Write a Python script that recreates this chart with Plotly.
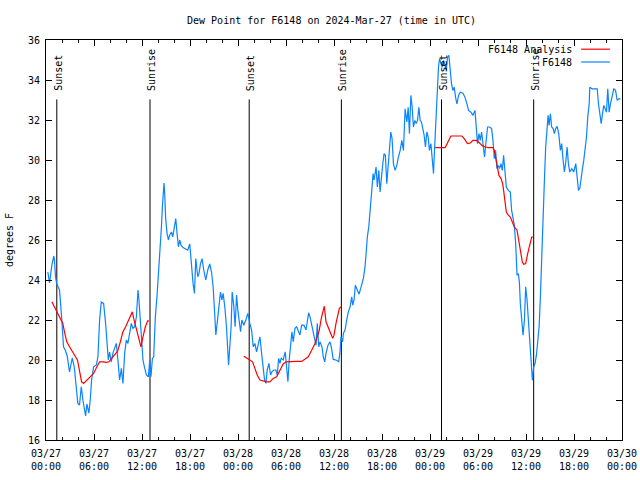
import pandas as pd
import plotly.graph_objects as go

BASE = pd.Timestamp("2024-03-27 00:00")

# Observed dew point (F6148), hours after 03/27 00:00 UTC
obs_hours = [0.23, 0.44, 0.73, 0.98, 1.06, 1.19, 1.35, 1.69, 1.98, 2.19, 2.40, 2.65, 2.94, 3.28, 3.53, 3.78,
             3.98, 4.19, 4.41, 4.61, 4.95, 5.11, 5.36, 5.53, 5.70, 5.95, 6.29, 6.49, 6.70, 6.91, 7.20, 7.45,
             7.61, 7.79, 7.95, 8.16, 8.36, 8.58, 8.79, 8.99, 9.20, 9.42, 9.62, 9.83, 10.04, 10.24, 10.46,
             10.67, 10.87, 11.08, 11.30, 11.50, 11.62, 11.80, 11.92, 12.12, 12.30, 12.55, 12.80, 12.96,
             13.12, 13.30, 13.46, 13.67, 13.87, 14.09, 14.30, 14.43, 14.55, 14.63, 14.75, 14.84, 14.96,
             15.13, 15.30, 15.46, 15.68, 15.84, 16.05, 16.22, 16.38, 16.55, 16.72, 16.88, 17.13, 17.43,
             17.72, 17.97, 18.13, 18.38, 18.56, 18.72, 18.97, 19.13, 19.31, 19.51, 19.72, 19.97, 20.22,
             20.47, 20.69, 20.89, 21.06, 21.23, 21.44, 21.64, 21.81, 21.98, 22.14, 22.35, 22.56, 22.82,
             22.98, 23.14, 23.27, 23.48, 23.64, 23.82, 23.98, 24.14, 24.32, 24.48, 24.73, 24.98, 25.23,
             25.48, 25.70, 25.90, 26.11, 26.32, 26.57, 26.74, 26.95, 27.15, 27.32, 27.49, 27.65, 27.86,
             28.07, 28.24, 28.49, 28.74, 28.90, 29.08, 29.24, 29.40, 29.65, 29.90, 30.08, 30.24, 30.40,
             30.58, 30.74, 30.91, 31.12, 31.33, 31.53, 31.74, 31.96, 32.24, 32.50, 32.66, 32.83, 33.00,
             33.16, 33.41, 33.58, 33.75, 33.91, 34.09, 34.25, 34.50, 34.66, 34.84, 35.00, 35.25, 35.50,
             35.66, 35.91, 36.25, 36.59, 36.75, 36.88, 37.08, 37.17, 37.38, 37.59, 37.79, 38.01, 38.22,
             38.34, 38.51, 38.67, 38.84, 39.13, 39.34, 39.67, 39.88, 40.01, 40.17, 40.35, 40.51, 40.64,
             40.76, 40.89, 41.01, 41.14, 41.26, 41.42, 41.60, 41.76, 41.92, 42.10, 42.26, 42.42, 42.60,
             42.76, 42.93, 43.10, 43.26, 43.43, 43.64, 43.85, 44.05, 44.27, 44.48, 44.68, 44.89, 45.11,
             45.27, 45.43, 45.61, 45.77, 45.93, 46.11, 46.27, 46.44, 46.61, 46.77, 46.93, 47.11, 47.27,
             47.43, 47.61, 47.77, 47.93, 48.11, 48.27, 48.44, 48.56, 48.74, 48.90, 49.06, 49.19, 49.36,
             49.52, 49.69, 49.86, 50.03, 50.19, 50.36, 50.53, 50.69, 50.86, 51.03, 51.19, 51.37, 51.57,
             51.78, 52.12, 52.37, 52.62, 52.82, 53.12, 53.37, 53.62, 53.78, 53.94, 54.12, 54.28, 54.45,
             54.62, 54.82, 55.00, 55.20, 55.45, 55.70, 55.87, 56.04, 56.20, 56.37, 56.54, 56.70, 56.88,
             57.04, 57.20, 57.38, 57.54, 57.79, 58.04, 58.20, 58.38, 58.54, 58.71, 58.88, 59.04, 59.17,
             59.29, 59.46, 59.63, 59.80, 59.96, 60.13, 60.30, 60.46, 60.63, 60.80, 60.96, 61.13, 61.30,
             61.46, 61.64, 61.80, 61.96, 62.14, 62.30, 62.46, 62.64, 62.76, 62.89, 63.05, 63.21, 63.39,
             63.55, 63.71, 63.89, 64.09, 64.30, 64.46, 64.64, 64.80, 64.97, 65.14, 65.30, 65.47, 65.72,
             65.97, 66.22, 66.39, 66.56, 66.72, 66.89, 67.06, 67.22, 67.40, 67.56, 67.72, 67.90, 67.97,
             68.27, 68.56, 68.90, 69.06, 69.22, 69.40, 69.56, 69.72, 69.90, 70.06, 70.22, 70.39, 70.56,
             70.77, 70.97, 71.19, 71.40, 71.60, 71.81]
obs_values = [24.4, 23.85, 24.74, 25.2, 25.0, 24.15, 23.8, 23.5, 22.0, 20.66, 20.5, 20.2, 19.4, 20.1, 19.66, 18.5,
              17.83, 17.75, 18.66, 18.0, 17.2, 17.8, 17.35, 18.0, 19.0, 19.66, 19.75, 20.16, 22.0, 22.9, 22.83, 21.83,
              20.66, 20.0, 20.4, 19.9, 20.33, 20.66, 20.83, 20.0, 19.0, 19.58, 18.83, 20.33, 21.0, 20.83, 21.33,
              21.83, 21.58, 21.66, 22.16, 23.5, 23.0, 22.0, 21.0, 20.0, 19.66, 19.25, 19.16, 20.0,
              19.16, 20.08, 20.16, 22.16, 23.16, 24.5, 25.5, 26.66, 27.66, 28.4, 28.85, 28.3, 27.07,
              26.33, 26.0, 26.25, 26.4, 26.16, 26.74, 27.07, 26.33, 25.66, 26.0, 25.74, 25.62, 25.57,
              25.49, 25.8, 25.0, 23.83, 23.33, 25.07, 24.16, 24.33, 24.82, 25.07, 24.5, 24.0, 24.5,
              24.8, 24.4, 23.66, 22.5, 21.25, 22.0, 23.0, 23.4, 23.0, 23.33, 22.66, 21.66, 19.75,
              20.66, 21.66, 23.4, 22.66, 21.66, 23.25, 22.5, 21.83, 21.41, 22.0, 21.74, 22.0, 22.33,
              21.83, 21.5, 20.66, 20.83, 20.41, 20.91, 21.16, 20.33, 19.66, 19.0, 18.83, 19.5, 19.83,
              19.25, 19.41, 19.5, 19.5, 19.25, 20.08, 19.83, 20.08, 20.0, 20.41, 19.5, 18.91, 20.0,
              20.83, 21.41, 20.91, 21.58, 21.66, 21.5, 21.25, 21.74, 21.74, 21.5, 21.83, 22.36, 22.16,
              21.83, 21.33, 20.91, 20.74, 21.83, 20.66, 20.91, 20.66, 20.16, 19.91, 20.33, 20.74, 20.91,
              20.66, 20.03, 20.0, 19.91, 20.41, 21.16, 20.91, 21.33, 21.5, 22.0, 22.41, 22.66, 23.16,
              22.74, 23.0, 23.74, 23.58, 23.29, 23.58, 24.08, 24.66, 25.57, 26.16, 26.66, 27.4, 28.15,
              28.65, 29.32, 29.0, 29.32, 29.65, 28.65, 29.48, 28.4, 29.32, 29.82, 30.32, 30.24, 28.82,
              29.82, 30.48, 31.4, 31.07, 29.82, 29.48, 29.73, 30.15, 30.48, 30.98, 30.48, 32.56, 31.9,
              32.64, 31.32, 33.23, 32.64, 31.65, 31.98, 31.82, 31.98, 32.64, 31.98, 31.9, 31.57, 31.23,
              30.65, 31.4, 31.15, 30.48, 30.82, 29.98, 29.32, 30.48, 32.15, 33.48, 34.64, 35.06, 34.89,
              34.64, 34.98, 34.81, 34.48, 35.14, 35.23, 34.48, 33.81, 33.48, 33.64, 33.14, 32.81, 33.23,
              33.39, 33.34, 33.14, 32.81, 32.48, 32.39, 32.23, 32.48, 31.65, 30.82, 31.32, 30.98, 31.4,
              30.65, 30.15, 30.9, 31.65, 31.65, 31.57, 30.98, 30.07, 30.48, 29.57, 29.73, 29.57, 29.82,
              29.48, 30.24, 29.4, 28.65, 28.48, 28.4, 27.49, 26.99, 26.74, 25.82, 24.24, 24.32, 23.91,
              22.83, 21.99, 21.24, 21.99, 23.66, 23.0, 21.83, 20.74, 19.99, 18.99, 19.66, 19.82, 20.24,
              20.99, 21.66, 23.16, 25.32, 27.65, 28.98, 30.65, 31.65, 32.23, 31.73, 32.31, 31.65, 31.57,
              31.32, 31.57, 31.68, 31.32, 30.48, 30.82, 29.98, 29.4, 29.9, 30.65, 29.82, 29.4, 29.57,
              29.4, 29.82, 29.15, 28.48, 28.57, 29.23, 29.57, 29.98, 30.48, 31.15, 32.15, 32.81, 33.64,
              33.56, 33.56, 33.56, 32.81, 32.23, 31.82, 32.31, 32.73, 32.56, 32.39, 33.56, 32.39, 32.81,
              33.31, 33.56, 33.48, 32.98, 33.06, 33.06]

# Analysis dew point (None = gap between analysis periods)
ana_hours = [0.73, 1.15, 1.57, 1.85, 2.10, 2.35, 2.60, 2.94, 3.36, 3.69, 3.94, 4.19, 4.45, 4.70, 5.11, 5.53,
             5.95, 6.36, 6.70, 7.11, 7.54, 7.86, 8.24, 8.62, 8.95, 9.29, 9.62, 9.96, 10.29, 10.54, 10.79,
             10.96, 11.21, 11.46, 11.71, 11.87, 12.12, 12.42, 12.71, 12.87, 18.0,
             24.73, 25.15, 25.48, 25.82, 26.11, 26.40, 26.74, 27.15, 27.58, 27.99, 28.40, 28.83, 29.24,
             29.65, 29.99, 30.49, 31.33, 31.96, 32.37, 32.78, 33.21, 33.62, 33.91, 34.16, 34.41, 34.59,
             34.79, 35.00, 35.29, 35.59, 35.84, 36.00, 36.25, 36.47, 36.67, 36.92, 42.0,
             48.65, 49.90, 50.61, 51.99, 52.28, 52.69, 53.03, 53.37, 53.78, 54.07, 54.50, 54.91, 55.32,
             55.87, 56.04, 56.20, 56.37, 56.62, 56.88, 57.08, 57.20, 57.38, 57.54, 57.79, 58.04, 58.29,
             58.54, 58.88, 59.08, 59.29, 59.54, 59.71, 59.96, 60.21, 60.46, 60.71, 60.88]
ana_values = [22.91, 22.58, 22.24, 22.08, 21.83, 21.33, 20.91, 20.66, 20.41, 20.16, 19.99, 19.41, 18.91, 18.83,
              19.0, 19.13, 19.33, 19.66, 19.91, 19.91, 19.88, 19.91, 20.08, 20.24, 20.44, 20.91, 21.41, 21.66,
              21.99, 22.24, 22.41, 22.08, 21.66, 21.24, 20.83, 20.66, 21.16, 21.66, 21.96, 21.96, None,
              20.19, 20.08, 19.99, 19.91, 19.58, 19.25, 19.0, 18.96, 18.91, 18.91, 19.08, 19.16, 19.5,
              19.8, 19.91, 19.93, 19.93, 19.93, 20.03, 20.16, 20.49, 20.83, 21.16, 21.49, 22.08, 22.41,
              22.69, 21.91, 21.66, 21.33, 21.08, 21.24, 21.83, 22.33, 22.58, 22.66, None,
              30.62, 30.62, 31.2, 31.2, 31.07, 30.82, 30.85, 30.98, 30.98, 30.9, 30.73, 30.65, 30.62,
              30.62, 30.48, 30.07, 29.65, 29.23, 29.07, 28.82, 28.48, 27.99, 27.4, 27.24, 27.15, 26.9,
              26.65, 26.49, 25.99, 25.57, 24.9, 24.79, 24.82, 25.32, 25.74, 26.15, 26.15]

# Sun events (hours after 03/27 00:00 UTC)
sun_hours = [1.35, 13.0, 25.4, 36.92, 49.44, 60.96]
sun_labels = ["Sunset", "Sunrise", "Sunset", "Sunrise", "Sunset", "Sunrise"]
sun_line_top = 33.03
sun_label_y = 33.35

tick_hours = [0, 6, 12, 18, 24, 30, 36, 42, 48, 54, 60, 66, 72]
tick_labels = ["03/27<br>00:00", "03/27<br>06:00", "03/27<br>12:00", "03/27<br>18:00",
               "03/28<br>00:00", "03/28<br>06:00", "03/28<br>12:00", "03/28<br>18:00",
               "03/29<br>00:00", "03/29<br>06:00", "03/29<br>12:00", "03/29<br>18:00",
               "03/30<br>00:00"]
y_ticks = [16, 18, 20, 22, 24, 26, 28, 30, 32, 34, 36]


def to_time(hs):
    return [None if h is None else BASE + pd.Timedelta(hours=h) for h in hs]


ana_x = []
for h, v in zip(ana_hours, ana_values):
    ana_x.append(None if v is None else BASE + pd.Timedelta(hours=h))

FONT = "DejaVu Sans Mono"
RED = "#ff0000"
BLUE = "#0a84ff"

fig = go.Figure()

for h in sun_hours:
    t = BASE + pd.Timedelta(hours=h)
    fig.add_trace(go.Scatter(x=[t, t], y=[16, sun_line_top], mode="lines",
                             line=dict(color="black", width=1), showlegend=False, hoverinfo="skip"))

fig.add_trace(go.Scatter(x=to_time(obs_hours), y=obs_values, mode="lines",
                         line=dict(color=BLUE, width=1.2), name="F6148", showlegend=False))
fig.add_trace(go.Scatter(x=ana_x, y=ana_values, mode="lines", connectgaps=False,
                         line=dict(color=RED, width=1.2), name="F6148 Analysis", showlegend=False))

for h, lab in zip(sun_hours, sun_labels):
    fig.add_annotation(x=BASE + pd.Timedelta(hours=h), y=sun_label_y, text=lab, showarrow=False,
                       textangle=-90, xanchor="center", yanchor="bottom", xshift=1,
                       font=dict(family=FONT, size=10, color="black"))

# Legend drawn gnuplot-style: text right-aligned, line sample on the right
legend_items = [("F6148 Analysis", RED, 0.977), ("F6148", BLUE, 0.945)]
for txt, col, yy in legend_items:
    fig.add_annotation(x=0.917, y=yy, xref="paper", yref="paper", text=txt, showarrow=False,
                       xanchor="right", yanchor="middle", font=dict(family=FONT, size=10, color="black"))
    fig.add_shape(type="line", xref="paper", yref="paper", x0=0.929, x1=0.979, y0=yy, y1=yy,
                  line=dict(color=col, width=1.2))

tick_times = [BASE + pd.Timedelta(hours=h) for h in tick_hours]

fig.update_layout(
    width=640, height=480,
    margin=dict(l=46, r=18, t=40, b=40, autoexpand=False),
    paper_bgcolor="white", plot_bgcolor="white",
    title=dict(text="Dew Point for F6148 on 2024-Mar-27 (time in UTC)", x=0.518, xanchor="center",
               y=0.958, yanchor="middle", automargin=False,
               font=dict(family=FONT, size=10, color="black")),
    font=dict(family=FONT, size=10, color="black"),
    showlegend=False,
    xaxis=dict(type="date", range=[tick_times[0], tick_times[-1]], tickvals=tick_times,
               ticktext=tick_labels, ticks="inside", ticklen=6, tickcolor="black",
               showline=True, linecolor="black", linewidth=1, mirror="ticks", showgrid=False,
               zeroline=False, automargin=False, ticklabelstandoff=4,
               tickfont=dict(family=FONT, size=10, color="black"),
               minor=dict(dtick=2 * 3600000, ticks="inside", ticklen=3, tickcolor="black",
                          showgrid=False)),
    yaxis=dict(range=[16, 36], tickvals=y_ticks, ticks="inside", ticklen=6, tickcolor="black",
               showline=True, linecolor="black", linewidth=1, mirror="ticks", showgrid=False,
               zeroline=False, automargin=False, ticklabelstandoff=3,
               tickfont=dict(family=FONT, size=10, color="black"),
               title=dict(text="degrees F", font=dict(family=FONT, size=10, color="black"),
                          standoff=12)),
)

fig.write_html("out.html", config={"displayModeBar": False},
               post_script="document.body.style.margin='0';")
